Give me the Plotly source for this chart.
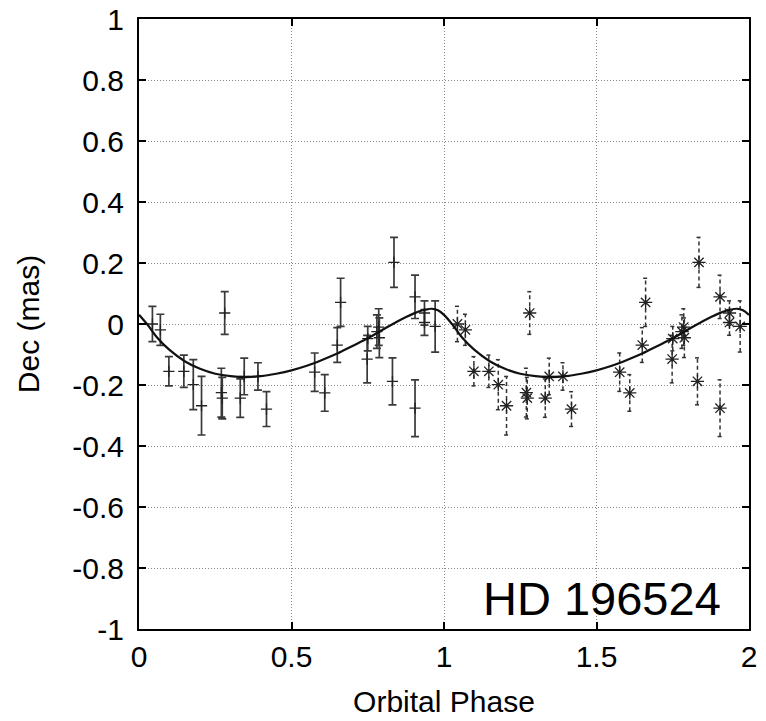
import plotly.graph_objects as go

# Observed data (phase 0-1), repeated in phase 1-2
phase = [0.044, 0.070, 0.098, 0.147, 0.178, 0.205, 0.270, 0.273, 0.281, 0.332,
         0.345, 0.390, 0.418, 0.576, 0.609, 0.650, 0.661, 0.750, 0.748, 0.780,
         0.786, 0.788, 0.831, 0.836, 0.905, 0.905, 0.936, 0.936, 0.971]
dec = [0.000, -0.019, -0.155, -0.155, -0.199, -0.268, -0.225, -0.243, 0.036, -0.243,
       -0.172, -0.172, -0.279, -0.158, -0.226, -0.069, 0.071, -0.048, -0.115, -0.025,
       -0.010, -0.045, -0.188, 0.202, 0.089, -0.276, 0.036, 0.005, -0.008]
err = [0.058, 0.051, 0.048, 0.053, 0.082, 0.096, 0.080, 0.068, 0.070, 0.063,
       0.060, 0.045, 0.057, 0.063, 0.060, 0.057, 0.079, 0.040, 0.078, 0.055,
       0.060, 0.065, 0.077, 0.082, 0.071, 0.093, 0.040, 0.042, 0.084]

# Model curve (one period)
curve_phase = [0, 0.03, 0.06, 0.1, 0.15, 0.2, 0.25, 0.3, 0.35, 0.4, 0.45, 0.5,
               0.55, 0.6, 0.65, 0.7, 0.75, 0.8, 0.85, 0.9, 0.93, 0.96, 0.98, 1.0]
curve_dec = [0.03, -0.005, -0.045, -0.085, -0.122, -0.147, -0.163, -0.171, -0.174,
             -0.171, -0.163, -0.152, -0.137, -0.118, -0.097, -0.072, -0.047, -0.018,
             0.010, 0.034, 0.045, 0.050, 0.045, 0.030]

x_ticks = [0, 0.5, 1, 1.5, 2]
x_tick_text = ["0", "0.5", "1", "1.5", "2"]
y_ticks = [-1, -0.8, -0.6, -0.4, -0.2, 0, 0.2, 0.4, 0.6, 0.8, 1]
y_tick_text = ["-1", "-0.8", "-0.6", "-0.4", "-0.2", "0", "0.2", "0.4", "0.6", "0.8", "1"]

FONT = "Liberation Sans, Arial, Helvetica, sans-serif"
fig = go.Figure()

# First cycle: '+' markers with solid error bars
fig.add_trace(go.Scatter(
    x=phase, y=dec, mode="markers",
    marker=dict(symbol="cross-thin-open", size=8, color="#222",
                line=dict(color="#222", width=1.3)),
    error_y=dict(type="data", array=err, visible=True, color="#3a3a3a", thickness=1.7, width=4),
    showlegend=False))

# Second cycle: asterisk markers with dashed error bars
ph2 = [p + 1 for p in phase]
ex, ey = [], []
cap = 0.008
for p, d, e in zip(ph2, dec, err):
    ex += [p, p, None, p - cap, p + cap, None, p - cap, p + cap, None]
    ey += [d - e, d + e, None, d + e, d + e, None, d - e, d - e, None]
fig.add_trace(go.Scatter(x=ex, y=ey, mode="lines",
                         line=dict(color="#333", width=1.5, dash="4px,3px"),
                         showlegend=False, hoverinfo="skip"))
fig.add_trace(go.Scatter(
    x=ph2, y=dec, mode="markers",
    marker=dict(symbol="asterisk-open", size=11, color="#222",
                line=dict(color="#222", width=1.3)),
    showlegend=False))

# Model curve for both cycles
cx = curve_phase + [p + 1 for p in curve_phase[1:]]
cy = curve_dec + curve_dec[1:]
fig.add_trace(go.Scatter(x=cx, y=cy, mode="lines",
                         line=dict(color="#111", width=2.2, shape="spline"),
                         showlegend=False))

fig.add_annotation(text="HD 196524", xref="paper", yref="paper",
                   x=(723 - 139) / 610, y=(629 - 598) / 610,
                   xanchor="right", yanchor="middle", showarrow=False,
                   font=dict(family=FONT, size=47, color="black"))

axis_common = dict(showline=True, linecolor="black", linewidth=2, mirror="ticks",
                   ticks="inside", ticklen=7, tickwidth=1.5, tickcolor="black",
                   showgrid=True, gridcolor="#888", griddash="1px,2px", gridwidth=1,
                   zeroline=False, automargin=False, ticklabeloverflow="allow",
                   tickfont=dict(family=FONT, size=30, color="black"))

fig.update_xaxes(range=[0, 2], tickvals=x_ticks, ticktext=x_tick_text,
                 title=dict(text="Orbital Phase", font=dict(family=FONT, size=30, color="black"),
                            standoff=19),
                 **axis_common)
fig.update_yaxes(range=[-1, 1], tickvals=y_ticks, ticktext=y_tick_text, ticklabelstandoff=7,
                 title=dict(text="Dec (mas)", font=dict(family=FONT, size=30, color="black"),
                            standoff=24),
                 **axis_common)

fig.update_layout(width=766, height=721, margin=dict(l=139, r=17, t=19, b=92),
                  plot_bgcolor="white", paper_bgcolor="white", showlegend=False)

# remove the default page margin so the figure sits at the window's top-left corner
fig.write_html("out.html", config={"displayModeBar": False},
               post_script="document.body.style.margin='0';")
